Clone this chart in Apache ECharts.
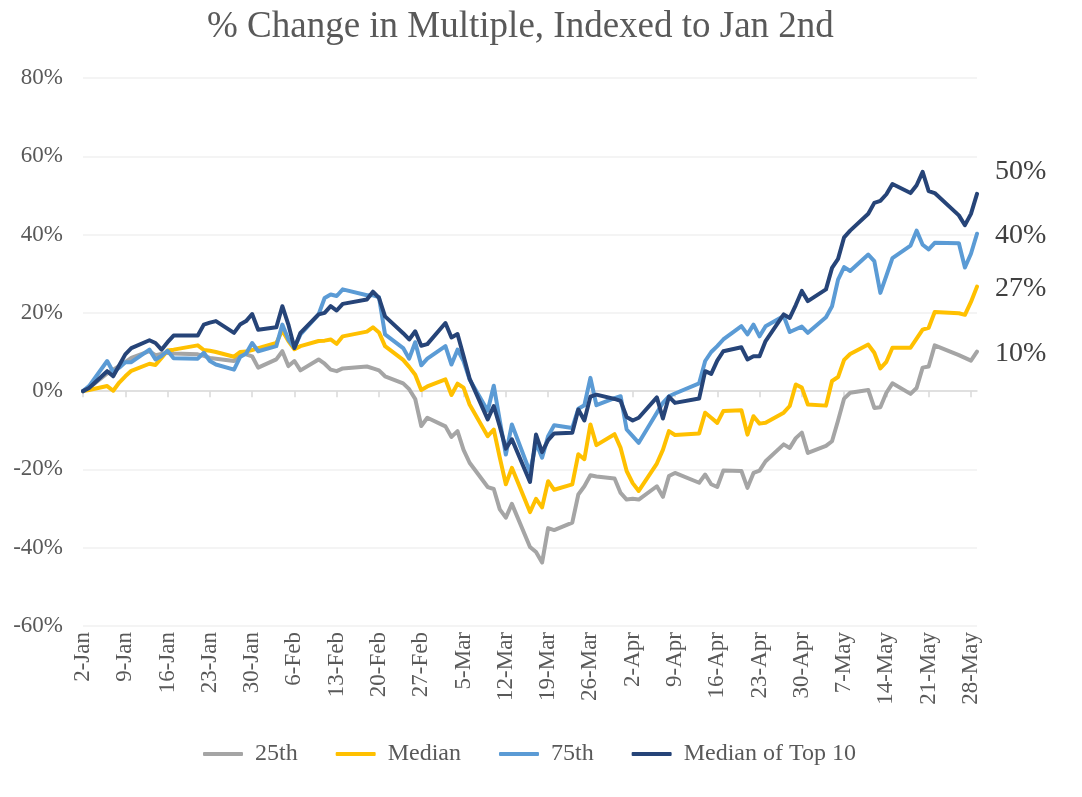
<!DOCTYPE html>
<html><head><meta charset="utf-8">
<script src="https://cdn.jsdelivr.net/npm/echarts@6/dist/echarts.min.js"></script>
<style>html,body{margin:0;padding:0;background:#fff}#chart{width:1082px;height:797px}</style>
</head><body><div id="chart"></div>
<script>
// ---- data ----
const firstDay = [2020, 0, 2];
const lastDay = [2020, 4, 29];
const marketHolidays = ['2020-01-20', '2020-02-17', '2020-04-10', '2020-05-25'];
const monthNames = ['Jan','Feb','Mar','Apr','May','Jun','Jul','Aug','Sep','Oct','Nov','Dec'];
const seriesNames = ['25th', 'Median', '75th', 'Median of Top 10'];

// values per trading day (Jan 2 .. May 29), in %
const p25 = [
  0, 0.8, 4.5, 5.5, 6.4, 7.4, 8.5, 10.2, 9.2, 9.5, 9.8, 9.6, 9.4, 9.0, 8.5, 8.3, 7.7, 9.4, 9.4, 8.9, 6.0,
  8.1, 10.2, 6.4, 7.7, 5.3, 8.1, 7.0, 5.5, 5.1, 5.8, 6.3, 5.8, 5.3, 3.8, 2.0, 0.5, -2.0, -8.9, -6.8,
  -9.0, -11.7, -10.2, -15.0, -18.3, -24.5, -25.0, -30.2, -32.3, -28.8, -39.8, -41.1, -43.8, -35.0, -35.5, -33.6, -26.4, -24.3, -21.5, -21.8, -22.3, -26.0,
  -27.7, -27.5, -27.7, -24.3, -27.0, -21.7, -20.9, -23.4, -21.3, -23.8, -24.5, -20.3, -20.4, -24.7, -20.9, -20.3, -17.9, -13.6, -14.5, -12.0, -10.6,
  -15.8, -14.0, -12.8, -7.5, -1.9, -0.4, 0.3, -4.3, -4.1, -0.4, 2.0, -0.7, 0.8, 6.0, 6.3, 11.7, 9.2, 8.5, 7.8, 10.1
];
const median = [
  0, 0.3, 1.3, 0.1, 2.2, 3.8, 5.2, 7.0, 6.7, 8.5, 10.4, 10.6, 11.7, 10.5, 10.3, 10.0, 8.8, 10.0, 10.1, 10.5, 11.0,
  12.3, 15.5, 12.8, 10.7, 11.5, 12.8, 12.9, 13.2, 12.1, 14.0, 15.2, 16.3, 15.0, 11.5, 8.0, 6.2, 4.2, 0.3, 1.2,
  3.0, -1.0, 1.9, 0.9, -3.4, -11.5, -9.8, -17.0, -23.8, -19.6, -30.9, -27.5, -29.7, -23.0, -25.2, -23.8, -16.1, -17.4, -8.5, -13.8, -11.0, -14.5,
  -20.4, -23.5, -25.5, -18.5, -15.0, -10.2, -11.2, -10.8, -5.5, -6.8, -8.1, -5.1, -4.9, -11.1, -6.4, -8.3, -8.1, -5.5, -3.8, 1.7, 0.9,
  -3.4, -3.7, 2.6, 3.6, 8.0, 9.5, 11.9, 9.8, 5.8, 7.5, 11.1, 11.1, 13.4, 15.7, 16.2, 20.2, 19.9, 19.5, 22.8, 26.7
];
const p75 = [
  0, 1.3, 7.7, 4.9, 6.0, 7.4, 7.4, 10.6, 8.1, 9.0, 10.3, 8.4, 8.3, 9.8, 7.7, 6.8, 5.5, 8.7, 9.6, 12.3, 10.2,
  11.5, 17.0, 13.2, 11.1, 14.5, 19.6, 23.8, 24.7, 24.3, 26.0, 24.5, 24.5, 24.0, 14.5, 11.0, 8.3, 12.5, 6.6, 8.3,
  11.5, 6.8, 10.6, 7.7, 3.0, -5.0, 1.4, -7.5, -16.2, -8.5, -20.7, -13.2, -17.0, -11.5, -8.7, -9.4, -4.5, -3.6, 3.4, -3.6, -1.8, -1.3,
  -9.8, -11.5, -13.2, -5.5, -3.0, -1.3, -0.6, 2.0, 7.7, 10.0, 11.5, 13.2, 16.6, 14.5, 17.0, 14.0, 16.6, 19.2, 15.1, 15.8, 16.5,
  14.9, 18.9, 21.7, 28.5, 31.7, 30.7, 34.9, 33.2, 25.1, 29.5, 34.0, 37.2, 41.0, 37.4, 36.2, 37.9, 37.8, 31.6, 35.1, 40.2
];
const top10 = [
  0, 0.8, 5.1, 3.8, 6.6, 9.4, 11.0, 13.0, 12.3, 10.6, 12.5, 14.2, 14.2, 17.0, 17.5, 17.9, 14.9, 17.0, 17.9, 19.7, 15.7,
  16.3, 21.7, 17.0, 11.0, 14.9, 19.6, 20.0, 21.7, 20.6, 22.3, 23.4, 25.4, 23.8, 19.1, 14.8, 13.2, 15.3, 11.6, 12.0,
  17.4, 13.7, 14.6, 9.0, 3.2, -7.2, -3.8, -9.0, -14.7, -12.3, -23.2, -11.1, -15.6, -12.5, -10.8, -10.6, -4.7, -7.5, -1.4, -0.9, -2.0, -2.5,
  -6.6, -7.5, -6.8, -1.6, -7.0, -1.4, -3.0, -1.9, 5.1, 4.4, 7.8, 10.2, 11.2, 8.1, 8.9, 8.9, 12.8, 19.6, 18.7, 22.0, 25.6,
  23.0, 26.0, 31.5, 33.8, 39.3, 41.0, 45.3, 48.1, 48.6, 50.3, 52.9, 50.6, 52.6, 56.0, 51.1, 50.6, 44.9, 42.4, 45.3, 50.4
];
const seriesValues = [p25, median, p75, top10];

// ---- build calendar categories and trading-day positions ----
const categories = [];
const tradingIdx = [];
for (let t = Date.UTC(...firstDay); t <= Date.UTC(...lastDay); t += 86400000) {
  const d = new Date(t);
  const iso = d.toISOString().slice(0, 10);
  categories.push(d.getUTCDate() + '-' + monthNames[d.getUTCMonth()]);
  const wd = d.getUTCDay();
  if (wd !== 0 && wd !== 6 && marketHolidays.indexOf(iso) < 0) tradingIdx.push(categories.length - 1);
}

const FONT = "'Liberation Serif', 'Times New Roman', serif";
const colors = ['#A5A5A5', '#FFC000', '#5B9BD5', '#264478'];
const labelOffsets = [[0, 2], [0, 2], [0, 2], [0, -22]];

const chart = echarts.init(document.getElementById('chart'), null, {renderer: 'canvas'});
chart.setOption({
  animation: false,
  backgroundColor: '#ffffff',
  textStyle: {fontFamily: FONT},
  title: {
    text: '% Change in Multiple, Indexed to Jan 2nd',
    left: 207, top: 9, padding: 0,
    textStyle: {fontFamily: FONT, fontSize: 37, fontWeight: 'normal', color: '#595959'}
  },
  grid: {left: 83, right: 105, top: 78, bottom: 171, containLabel: false},
  legend: {
    data: seriesNames,
    left: 198, top: 737,
    icon: 'roundRect', itemWidth: 40, itemHeight: 4, itemGap: 38,
    textStyle: {fontFamily: FONT, fontSize: 24, color: '#595959', padding: [0, 0, 0, 7]}
  },
  xAxis: [
    {
      type: 'category', data: categories, boundaryGap: false,
      axisLine: {show: false, onZero: false},
      axisTick: {show: false},
      splitLine: {show: false},
      axisLabel: {interval: 6, rotate: 90, margin: 6, fontFamily: FONT, fontSize: 23, color: '#595959'}
    },
    {
      type: 'category', data: categories, boundaryGap: false, position: 'bottom',
      axisLine: {show: true, onZero: true, lineStyle: {color: '#D9D9D9', width: 1.5}},
      axisTick: {show: true, interval: 6, length: 6, lineStyle: {color: '#D9D9D9', width: 1.5}},
      axisLabel: {show: false},
      splitLine: {show: false}
    }
  ],
  yAxis: {
    type: 'value', min: -60, max: 80, interval: 20,
    axisLine: {show: false}, axisTick: {show: false},
    axisLabel: {formatter: '{value}%', margin: 20, fontFamily: FONT, fontSize: 23, color: '#595959'},
    splitLine: {lineStyle: {color: '#F0F0F0', width: 1.5}}
  },
  series: seriesValues.map((vals, s) => ({
    name: seriesNames[s],
    type: 'line',
    xAxisIndex: 0,
    data: vals.map((v, i) => [tradingIdx[i], v]),
    showSymbol: false,
    symbol: 'none',
    lineStyle: {width: 4, color: colors[s], join: 'round', cap: 'round'},
    itemStyle: {color: colors[s]},
    emphasis: {disabled: true},
    endLabel: {
      show: true,
      formatter: p => Math.round(p.value[1]) + '%',
      distance: 18,
      offset: labelOffsets[s],
      fontFamily: FONT, fontSize: 28, color: '#404040'
    }
  }))
});
</script>
</body></html>
